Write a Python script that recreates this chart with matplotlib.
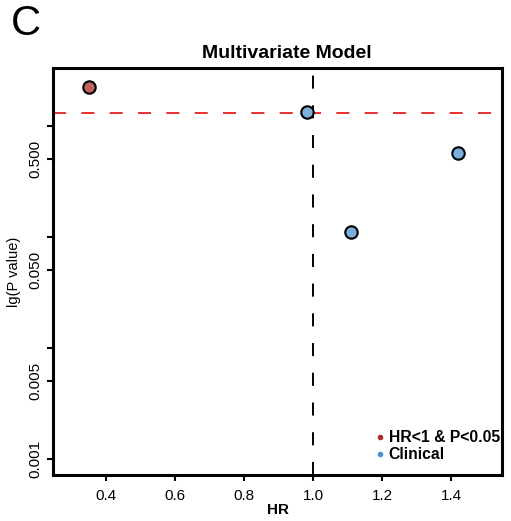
import numpy as np
import matplotlib
matplotlib.use('Agg')
import matplotlib.pyplot as plt
from matplotlib.lines import Line2D

plt.rcParams['font.family'] = ['Liberation Sans', 'DejaVu Sans']
plt.rcParams['lines.scale_dashes'] = False

# data (y is on a log axis)
hr = [0.35, 0.983, 1.111, 1.421]
lg_p = [2.23, 1.33, 0.110, 0.574]
group = ['sig', 'clinical', 'clinical', 'clinical']

y_ticks = [1, 0.5, 0.1, 0.05, 0.01, 0.005, 0.001]
y_labels = ['', '0.500', '', '0.050', '', '0.005', '0.001']
x_ticks = [0.4, 0.6, 0.8, 1.0, 1.2, 1.4]
cutoff = 1.301   # -log10(0.05)

fill = {'sig': '#C0605F', 'clinical': '#7BAFDE'}
legend_col = {'sig': '#B02A2A', 'clinical': '#4A90D0'}
legend_txt = {'sig': 'HR<1 & P<0.05', 'clinical': 'Clinical'}

W, H = 511, 521
fig = plt.figure(figsize=(W / 100, H / 100), dpi=100)
ax = fig.add_axes([53 / W, 1 - 475 / H, (502 - 53) / W, (475 - 68) / H])

ax.set_yscale('log')
ax.set_xlim(0.246, 1.548)
ax.set_ylim(0.000718, 3.33)

ax.axhline(cutoff, color='#E5201F', lw=1.3, dashes=(9.4, 11))
ax.axvline(1.0, color='black', lw=1.4, dashes=(9.4, 12), zorder=1)

for g in ['sig', 'clinical']:
    xs = [x for x, k in zip(hr, group) if k == g]
    ys = [y for y, k in zip(lg_p, group) if k == g]
    ax.scatter(xs, ys, s=80, c=fill[g], edgecolors='black', linewidths=1.5, zorder=3)

ax.set_xticks(x_ticks)
ax.set_xticklabels(['%.1f' % v for v in x_ticks])
ax.set_yticks(y_ticks)
ax.set_yticklabels(y_labels, rotation=90, va='center')
ax.minorticks_off()
ax.tick_params(labelsize=11, length=4, width=1.5, pad=6, colors='black')
ax.tick_params(axis='y', pad=4)
for s in ax.spines.values():
    s.set_linewidth(2.2)

ax.set_xlabel('HR', fontsize=11, fontweight='bold', labelpad=0)
ax.set_ylabel('lg(P value)', fontsize=10.5, labelpad=5)

fig.text(287 / W, 1 - 53 / H, 'Multivariate Model', fontsize=14, fontweight='bold',
         ha='center', va='center')
fig.text(11 / W, 1 - 24 / H, 'C', fontsize=30, ha='left', va='center')

handles = [Line2D([], [], marker='o', ls='none', ms=4, mfc=legend_col[k], mec='none')
           for k in ['sig', 'clinical']]
ax.legend(handles, [legend_txt[k] for k in ['sig', 'clinical']], loc='lower right',
          bbox_to_anchor=(500 / W, 1 - 462 / H), bbox_transform=fig.transFigure,
          frameon=False, handletextpad=0.05, handlelength=1.0, labelspacing=0.1,
          borderaxespad=0.0, borderpad=0.0, prop={'weight': 'bold', 'size': 11.3})

fig.savefig('out.png', dpi=100)
